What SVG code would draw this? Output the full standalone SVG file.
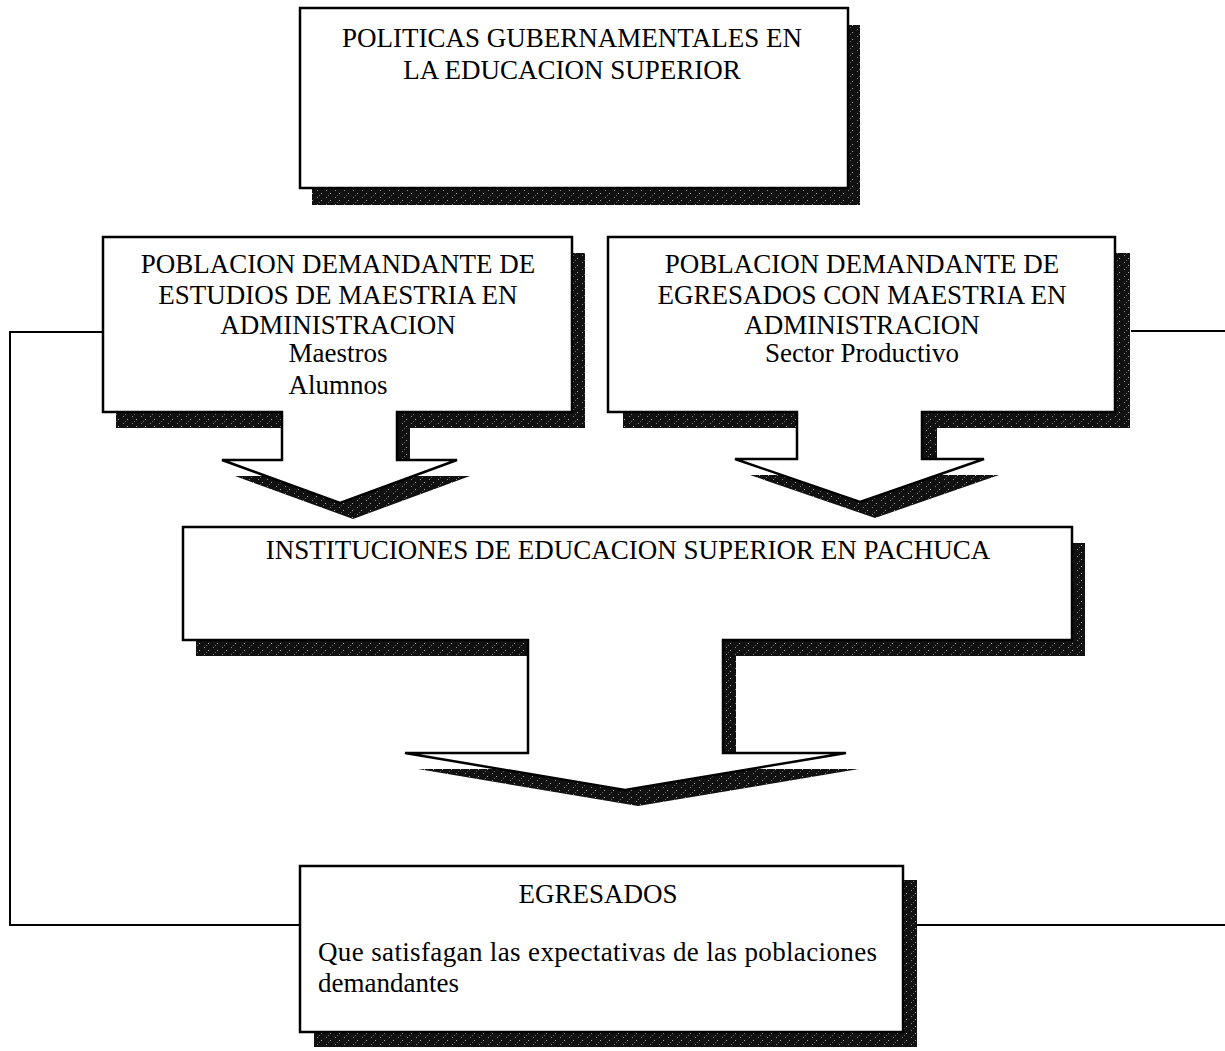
<svg xmlns="http://www.w3.org/2000/svg" width="1225" height="1051" viewBox="0 0 1225 1051">
<defs>
<pattern id="tex" width="9" height="7" patternUnits="userSpaceOnUse">
<rect width="9" height="7" fill="#111"/>
<rect x="2" y="1" width="1" height="1" fill="#888"/>
<rect x="6" y="4" width="1" height="1" fill="#aaa"/>
<rect x="4" y="6" width="1" height="1" fill="#666"/>
</pattern>
</defs>
<style>
.shadow{fill:url(#tex);stroke:none}
.shape{fill:#fff;stroke:#000;stroke-width:2.5;stroke-linejoin:miter}
.conn{fill:none;stroke:#000;stroke-width:2}
text{font-family:"Liberation Serif","Times New Roman",serif;font-size:27px;fill:#000}
.c{text-anchor:middle}
</style>
<rect width="1225" height="1051" fill="#fff"/>
<g id="connectors">
<polyline class="conn" points="103,332 10,332 10,925 300,925"/>
<polyline class="conn" points="1131,331 1225,331"/>
<polyline class="conn" points="917,925 1225,925"/>
</g>
<g id="politicas">
<rect class="shadow" x="312" y="25" width="548" height="180"/>
<rect class="shape" x="300" y="8" width="548" height="180"/>
<text class="c" x="572" y="47">POLITICAS GUBERNAMENTALES EN</text>
<text class="c" x="572" y="79">LA EDUCACION SUPERIOR</text>
</g>
<g id="demanda-estudios">
<path class="shadow" transform="translate(13,16)" d="M103,237 H572 V412 H397 V460 H457 L340,503 L222,460 H282 V412 H103 Z"/>
<path class="shape" d="M103,237 H572 V412 H397 V460 H457 L340,503 L222,460 H282 V412 H103 Z"/>
<text class="c" x="338" y="273">POBLACION DEMANDANTE DE</text>
<text class="c" x="338" y="304">ESTUDIOS DE MAESTRIA EN</text>
<text class="c" x="338" y="334">ADMINISTRACION</text>
<text class="c" x="338" y="362">Maestros</text>
<text class="c" x="338" y="394">Alumnos</text>
</g>
<g id="demanda-egresados">
<path class="shadow" transform="translate(15,16)" d="M608,237 H1115 V412 H922 V459 H984 L860,502 L735,459 H797 V412 H608 Z"/>
<path class="shape" d="M608,237 H1115 V412 H922 V459 H984 L860,502 L735,459 H797 V412 H608 Z"/>
<text class="c" x="862" y="273">POBLACION DEMANDANTE DE</text>
<text class="c" x="862" y="304">EGRESADOS CON MAESTRIA EN</text>
<text class="c" x="862" y="334">ADMINISTRACION</text>
<text class="c" x="862" y="362">Sector Productivo</text>
</g>
<g id="instituciones">
<path class="shadow" transform="translate(13,16)" d="M183,527 H1072 V640 H723 V753 H846 L625,790 L405,753 H528 V640 H183 Z"/>
<path class="shape" d="M183,527 H1072 V640 H723 V753 H846 L625,790 L405,753 H528 V640 H183 Z"/>
<text class="c" x="628" y="559">INSTITUCIONES DE EDUCACION SUPERIOR EN PACHUCA</text>
</g>
<g id="egresados">
<rect class="shadow" x="314" y="880" width="603" height="167"/>
<rect class="shape" x="300" y="866" width="603" height="166"/>
<text class="c" x="598" y="903">EGRESADOS</text>
<text x="318" y="961" textLength="559" lengthAdjust="spacing">Que satisfagan las expectativas de las poblaciones</text>
<text x="318" y="992">demandantes</text>
</g>
</svg>
